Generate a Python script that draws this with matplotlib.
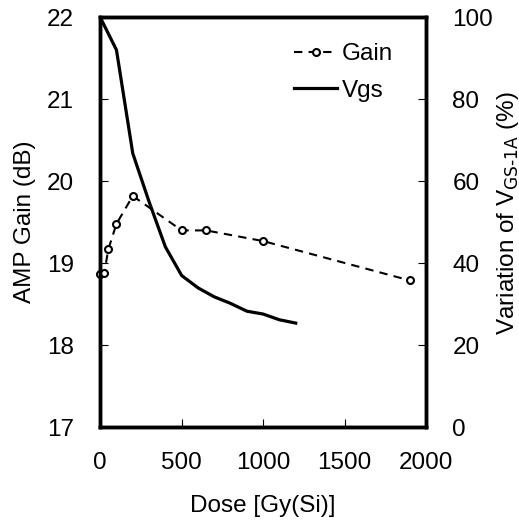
import matplotlib
matplotlib.use('Agg')
import matplotlib.pyplot as plt

plt.rcParams['font.family'] = ['Liberation Sans', 'DejaVu Sans']

# gain vs dose
dose_gain = [0, 25, 50, 100, 200, 500, 650, 1000, 1900]
gain = [18.87, 18.88, 19.17, 19.48, 19.82, 19.40, 19.40, 19.27, 18.79]

# Vgs variation vs dose
dose_vgs = [0, 100, 200, 300, 400, 500, 600, 700, 800, 900, 1000, 1100, 1200]
vgs = [100, 92, 66.8, 55, 44, 37, 34, 31.8, 30.2, 28.3, 27.6, 26.2, 25.4]

fs = 17.5

fig = plt.figure(figsize=(5.19, 5.21), dpi=100)
ax = fig.add_axes((0.193, 0.180, 0.628, 0.787))
ax2 = ax.twinx()

l1, = ax.plot(dose_gain, gain, 'k--', lw=1.5, marker='o', ms=5,
              mfc='white', mec='k', mew=1.5, label='Gain', dashes=(4, 3),
              clip_on=False, zorder=5)
l2, = ax2.plot(dose_vgs, vgs, 'k-', lw=2.3, label='Vgs')

ax.set_xlim(0, 2000)
ax.set_ylim(17, 22)
ax2.set_ylim(0, 100)
ax.set_xticks([0, 500, 1000, 1500, 2000])
ax.set_yticks([17, 18, 19, 20, 21, 22])
ax2.set_yticks([0, 20, 40, 60, 80, 100])

for a in (ax, ax2):
    for s in a.spines.values():
        s.set_linewidth(2.5)
    a.tick_params(direction='in', length=6, width=0.8, labelsize=fs, pad=19)
ax.tick_params(axis='x', pad=18)

ax.set_xlabel('Dose [Gy(Si)]', fontsize=fs, labelpad=15)
ax.set_ylabel('AMP Gain (dB)', fontsize=fs, labelpad=8)
ax2.set_ylabel('Variation of V$_{\\mathrm{GS}\\text{-}\\mathrm{1A}}$ (%)', fontsize=fs)
ax2.yaxis.set_label_coords(1.21, 0.522)

ax2.legend([l1, l2], ['Gain', 'Vgs'], loc='upper right', frameon=False,
           fontsize=fs, handlelength=1.75, handletextpad=0.2,
           bbox_to_anchor=(0.966, 0.99), labelspacing=0.6)

fig.savefig('out.png', dpi=100)
